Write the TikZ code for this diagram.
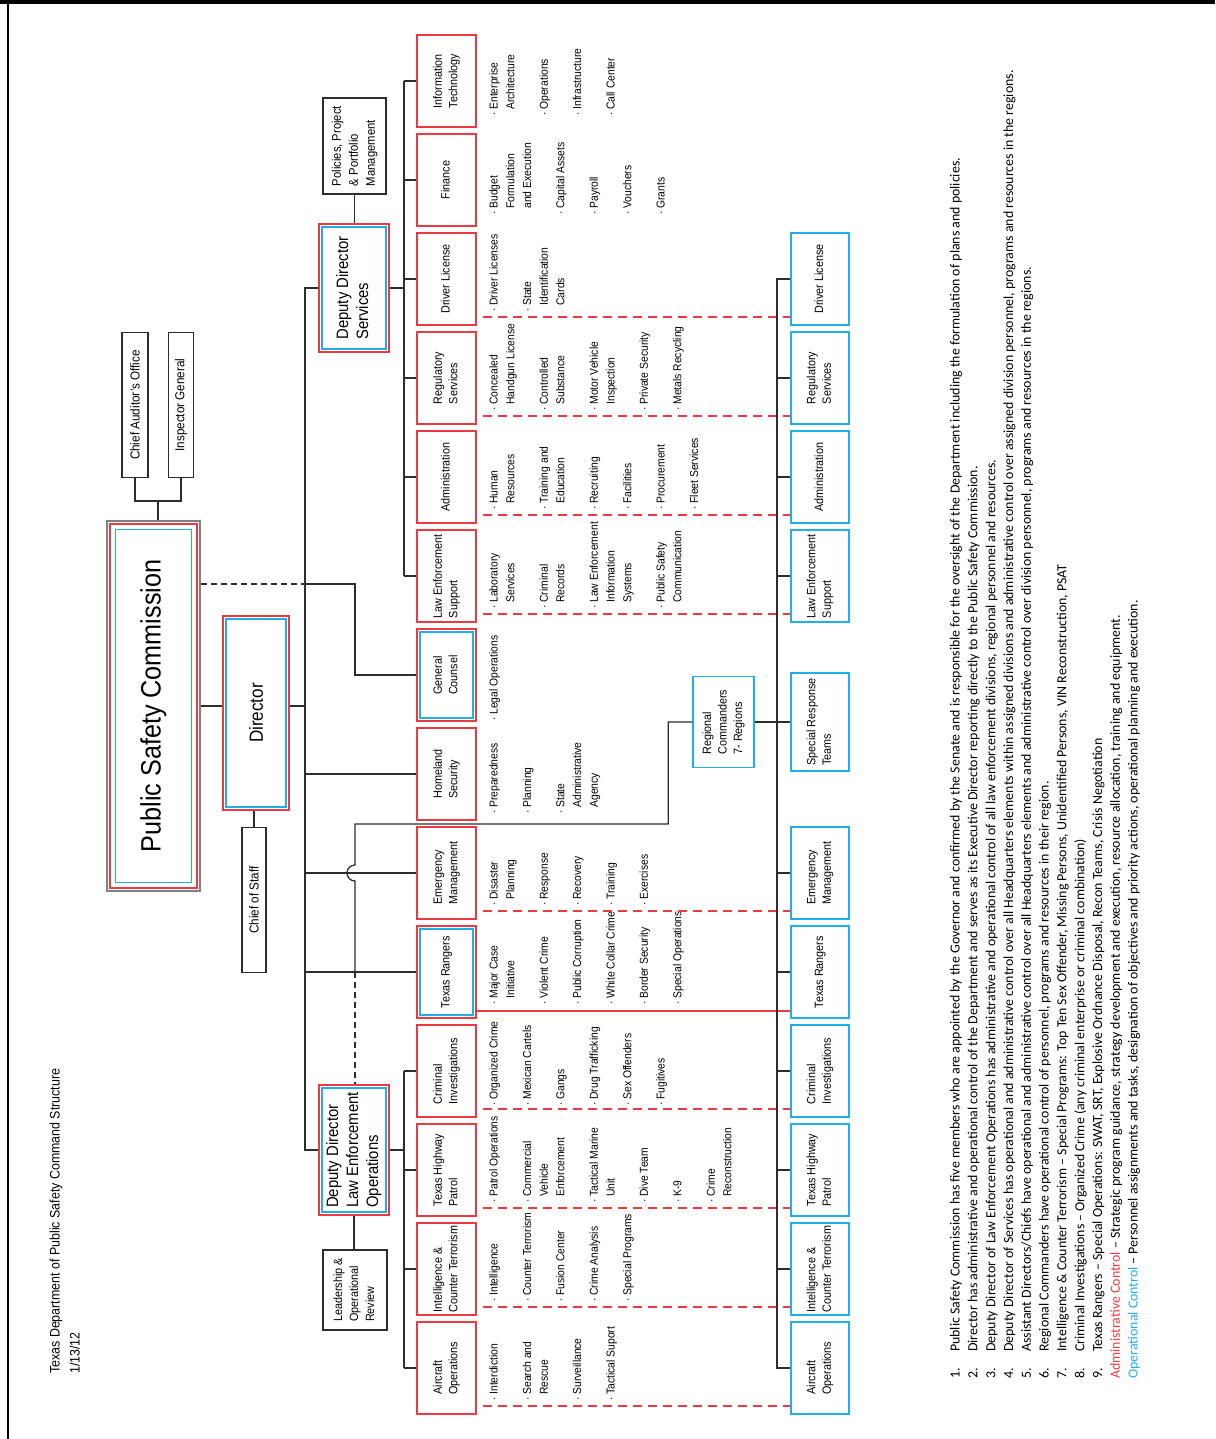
\documentclass[tikz,border=0pt]{standalone}
\usepackage{graphicx}
\usepackage{fontspec}
\setmainfont{Liberation Sans}[FakeStretch=0.9]
\newfontfamily\notefont{Carlito}
\usetikzlibrary{calc,positioning}
\definecolor{psred}{RGB}{236,58,66}
\definecolor{pscyan}{RGB}{30,176,232}
\definecolor{lnc}{RGB}{45,45,45}
\newcommand{\rl}[1]{\rotatebox{90}{\begin{tabular}{@{}l@{}}#1\end{tabular}}}
\newcommand{\bu}[1]{\makebox[6pt][l]{·}#1}
\newcommand{\ct}[1]{\hspace*{6pt}#1}
\newcommand{\nb}[1]{\makebox[27pt][l]{#1}}
\tikzset{ln/.style={draw=lnc,line width=1.3pt},bd/.style={ln,dash pattern=on 6pt off 4pt},
ob/.style={draw=lnc,line width=1.6pt,inner sep=0pt,font=\fontsize{13}{16}\selectfont},
rb/.style={draw=psred,line width=1.6pt,inner sep=0pt,minimum width=59pt,minimum height=92pt,font=\fontsize{12}{15.5}\selectfont},
cb/.style={rb,draw=pscyan,minimum width=58pt},
rcb/.style={rb,path picture={\draw[pscyan,line width=1.6pt] ([shift={(3pt,3pt)}]path picture bounding box.south west) rectangle ([shift={(-3pt,-3pt)}]path picture bounding box.north east);}},
pscb/.style={draw=gray,line width=1.5pt,inner sep=0pt,path picture={
\draw[psred,line width=1.6pt] ([shift={(3pt,3pt)}]path picture bounding box.south west) rectangle ([shift={(-3pt,-3pt)}]path picture bounding box.north east);
\draw[pscyan,line width=1.6pt] ([shift={(8.5pt,8.5pt)}]path picture bounding box.south west) rectangle ([shift={(-8.5pt,-8.5pt)}]path picture bounding box.north east);}},
lst/.style={anchor=south west,inner sep=0pt,font=\fontsize{11.5}{16.7}\selectfont},
rdash/.style={draw=psred,line width=1.4pt,dash pattern=on 9pt off 6pt}}
\begin{document}
\begin{tikzpicture}[x=1pt,y=-1pt]
\useasboundingbox (0,0) rectangle (1215,1439);
\draw[line width=4.5pt] (0,2) -- (1215,2);
\draw[line width=1.2pt] (8,0) -- (8,1439);
\node[anchor=south west,inner sep=0pt,font=\fontsize{13.8}{20}\selectfont] (ttl) at (45.5,1374) {\rl{Texas Department of Public Safety Command Structure\\1/13/12}};
\coordinate (bus) at (305,0);
\coordinate (sb) at (404,0);
\coordinate (rbus) at (777,0);
\coordinate (rx) at (820,0);

\node[pscb,minimum width=93pt,minimum height=370pt,font=\fontsize{28}{30}\selectfont] (psc) at (153.5,706) {\rotatebox{90}{Public Safety Commission}};
\node[ob,minimum width=26pt,minimum height=145pt] (cao) at (135,405) {\rotatebox{90}{Chief Auditor's Office}};
\node[ob,minimum width=25pt,minimum height=145pt] (ig) at (181,405) {\rotatebox{90}{Inspector General}};
\node[rcb,minimum width=66pt,minimum height=194pt,font=\fontsize{19}{22}\selectfont] (dir) at (256,713) {\rotatebox{90}{Director}};
\node[ob,minimum width=24pt,minimum height=145pt] (cos) at (254,900) {\rotatebox{90}{Chief of Staff}};
\node[ob,minimum width=63pt,minimum height=96pt,font=\fontsize{12.5}{17}\selectfont] (pol) at (354.5,146) {\rl{Policies, Project\\\& Portfolio\\Management}};
\node[rcb,minimum width=70pt,minimum height=128pt,font=\fontsize{16.5}{20}\selectfont] (dds) at (354,288) {\rl{Deputy Director\\Services}};
\node[rcb,minimum width=70pt,minimum height=130pt,font=\fontsize{16.5}{20}\selectfont] (ddleo) at (354,1150) {\rl{Deputy Director\\Law Enforcement\\Operations}};
\node[ob,minimum width=64pt,minimum height=80pt,font=\fontsize{12}{16}\selectfont] (lor) at (355,1290) {\rl{Leadership \&\\Operational\\Review}};
\node[cb,minimum width=61pt,minimum height=91pt] (rc) at (723.5,722) {\rl{Regional\\Commanders\\7- Regions}};

\foreach \lb [count=\i from 0] in {{Information\\Technology},Finance,{Driver License},{Regulatory\\Services},Administration,{Law Enforcement\\Support},{General\\Counsel},{Homeland\\Security},{Emergency\\Management},{Texas Rangers},{Criminal\\Investigations},{Texas Highway\\Patrol},{Intelligence \&\\Counter Terrorism},{Aircraft\\Operations}}
  \node[rb] (d\i) at (446.5,81+99*\i) {\rl{\lb}};
\foreach \i in {6,9}
  \draw[pscyan,line width=1.6pt] ([shift={(3.8pt,3.8pt)}]d\i.south west) rectangle ([shift={(-3.8pt,-3.8pt)}]d\i.north east);

\foreach \dy/\its [count=\i from 0] in {
  12/{\bu{Enterprise}\\\ct{Architecture}\\ \\\bu{Operations}\\ \\\bu{Infrastructure}\\ \\\bu{Call Center}},
  12/{\bu{Budget}\\\ct{Formulation}\\\ct{and Execution}\\ \\\bu{Capital Assets}\\ \\\bu{Payroll}\\ \\\bu{Vouchers}\\ \\\bu{Grants}},
  14/{\bu{Driver Licenses}\\ \\\bu{State}\\\ct{Identification}\\\ct{Cards}},
  14/{\bu{Concealed}\\\ct{Handgun License}\\ \\\bu{Controlled}\\\ct{Substance}\\ \\\bu{Motor Vehicle}\\\ct{Inspection}\\ \\\bu{Private Security}\\ \\\bu{Metals Recycling}},
  14/{\bu{Human}\\\ct{Resources}\\ \\\bu{Training and}\\\ct{Education}\\ \\\bu{Recruiting}\\ \\\bu{Facilities}\\ \\\bu{Procurement}\\ \\\bu{Fleet Services}},
  14/{\bu{Laboratory}\\\ct{Services}\\ \\\bu{Criminal}\\\ct{Records}\\ \\\bu{Law Enforcement}\\\ct{Information}\\\ct{Systems}\\ \\\bu{Public Safety}\\\ct{Communication}},
  1/{\bu{Legal Operations}},
  7/{\bu{Preparedness}\\ \\\bu{Planning}\\ \\\bu{State}\\\ct{Administrative}\\\ct{Agency}},
  14/{\bu{Disaster}\\\ct{Planning}\\ \\\bu{Response}\\ \\\bu{Recovery}\\ \\\bu{Training}\\ \\\bu{Exercises}},
  14/{\bu{Major Case}\\\ct{Initiative}\\ \\\bu{Violent Crime}\\ \\\bu{Public Corruption}\\ \\\bu{White Collar Crime}\\ \\\bu{Border Security}\\ \\\bu{Special Operations}},
  12/{\bu{Organized Crime}\\ \\\bu{Mexican Cartels}\\ \\\bu{Gangs}\\ \\\bu{Drug Trafficking}\\ \\\bu{Sex Offenders}\\ \\\bu{Fugitives}},
  14/{\bu{Patrol Operations}\\ \\\bu{Commercial}\\\ct{Vehicle}\\\ct{Enforcement}\\ \\\bu{Tactical Marine}\\\ct{Unit}\\ \\\bu{Dive Team}\\ \\\bu{K-9}\\ \\\bu{Crime}\\\ct{Reconstruction}},
  14/{\bu{Intelligence}\\ \\\bu{Counter Terrorism}\\ \\\bu{Fusion Center}\\ \\\bu{Crime Analysis}\\ \\\bu{Special Programs}},
  14/{\bu{Interdiction}\\ \\\bu{Search and}\\\ct{Rescue}\\ \\\bu{Surveillance}\\ \\\bu{Tactical Suport}}}
  \node[lst] (l\i) at ([shift={(9pt,\dy pt)}]d\i.south east) {\rl{\its}};

\foreach \i/\lb in {2/{Driver License},3/{Regulatory\\Services},4/Administration,5/{Law Enforcement\\Support},8/{Emergency\\Management},9/{Texas Rangers},10/{Criminal\\Investigations},11/{Texas Highway\\Patrol},12/{Intelligence \&\\Counter Terrorism},13/{Aircraft\\Operations}}
  \node[cb] (r\i) at (rx |- d\i) {\rl{\lb}};
\node[cb,minimum height=98pt] (srt) at (rx |- rc) {\rl{Special Response\\Teams}};

\foreach \i in {2,3,4,5,8,10,11,12,13}{
  \coordinate (s) at ([shift={(6pt,9pt)}]d\i.south east);
  \draw[rdash] (s) -- (s -| r\i.west);}
\coordinate (s) at ([yshift=8pt]d9.south east);
\draw[draw=psred,line width=1.4pt] (s) -- (s -| r9.west);

\coordinate (brk) at (158,501);
\draw[ln] (cao.south) |- (brk) -| (ig.south);
\draw[ln] (brk) -- (brk |- psc.north);
\draw[ln] (psc.east) -- (psc.east -| dir.west);
\draw[ln] (dir.east |- psc.east) -- (psc.east -| bus);
\draw[ln] (cos.north) -- (cos.north |- dir.south);
\draw[ln] (pol.south) -- (pol.south |- dds.north);
\draw[ln] (dds.west) -- (dds.west -| bus) |- (ddleo.west);
\draw[ln] (dds.east) -- (dds.east -| sb);
\draw[ln] (d0.west -| sb) -- (d5.west -| sb);
\foreach \i in {0,...,5} \draw[ln] (d\i.west -| sb) -- (d\i.west);
\draw[ln] (ddleo.east) -- (ddleo.east -| sb);
\draw[ln] (d10.west -| sb) -- (d13.west -| sb);
\foreach \i in {10,...,13} \draw[ln] (d\i.west -| sb) -- (d\i.west);
\draw[ln] (ddleo.south) -- (ddleo.south |- lor.north);
\foreach \i in {7,8,9} \draw[ln] (d\i.west -| bus) -- (d\i.west);
\coordinate (gcj) at (305,584);
\draw[bd] (psc.east |- gcj) -- (gcj);
\draw[ln] (gcj) -- ++(50,0) |- (d6.west);
\coordinate (vj) at (355,824);
\draw[ln] (rc.west) -- ++(-24,0) |- (vj) -- ++(0,41) arc[start angle=90,end angle=270,radius=8pt] -- (vj |- d9.west);
\draw[bd] (vj |- d9.west) -- (vj |- ddleo.north);
\draw[ln] (r2.west) -- (r2.west -| rbus) |- (r13.west);
\foreach \i in {3,4,5,8,9,10,11,12} \draw[ln] (r\i.west -| rbus) -- (r\i.west);
\draw[ln] (rc.east) -- (srt.west);

\node[anchor=south west,inner sep=0pt,font=\notefont\fontsize{13.9}{17.8}\selectfont] (nts) at (947,1379) {\rl{%
\nb{1.}Public Safety Commission has five members who are appointed by the Governor and confirmed by the Senate and is responsible for the oversight of the Department including the formulation of plans and policies.\\
\nb{2.}Director has administrative and operational control of the Department and serves as its Executive Director reporting directly to the Public Safety Commission.\\
\nb{3.}Deputy Director of Law Enforcement Operations has administrative and operational control of all law enforcement divisions, regional personnel and resources.\\
\nb{4.}Deputy Director of Services has operational and administrative control over all Headquarters elements within assigned divisions and administrative control over assigned division personnel, programs and resources in the regions.\\
\nb{5.}Assistant Directors/Chiefs have operational and administrative control over all Headquarters elements and administrative control over division personnel, programs and resources in the regions.\\
\nb{6.}Regional Commanders have operational control of personnel, programs and resources in their region.\\
\nb{7.}Intelligence \& Counter Terrorism – Special Programs: Top Ten Sex Offender, Missing Persons, Unidentified Persons, VIN Reconstruction, PSAT\\
\nb{8.}Criminal Investigations – Organized Crime (any criminal enterprise or criminal combination)\\
\nb{9.}Texas Rangers – Special Operations: SWAT, SRT, Explosive Ordnance Disposal, Recon Teams, Crisis Negotiation\\
\textcolor{psred}{Administrative Control} – Strategic program guidance, strategy development and execution, resource allocation, training and equipment.\\
\textcolor{pscyan}{Operational Control} – Personnel assignments and tasks, designation of objectives and priority actions, operational planning and execution.}};
\end{tikzpicture}
\end{document}
